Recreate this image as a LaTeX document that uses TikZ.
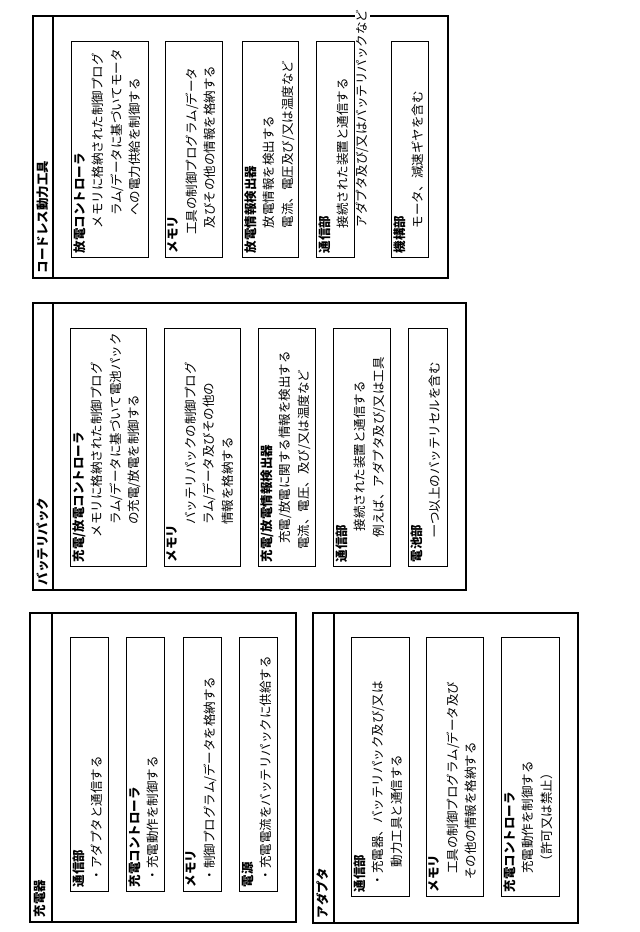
\documentclass[tikz,border=0pt]{standalone}
\usepackage{fontspec}
\setmainfont{Noto Sans CJK JP}
\usetikzlibrary{positioning}
\tikzset{
    outerbox/.style={draw=black, line width=1.6pt},
    innerbox/.style={draw=black, line width=0.8pt},
    boxtext/.style={
           rotate=90,
           anchor=north west,
           align=left,
           inner sep=1.5pt,
           font=\fontsize{12.5}{18.5}\selectfont,
           },
    titletext/.style={boxtext, font=\fontsize{12.5}{14}\selectfont\bfseries},
}
\newcommand{\ind}[1]{\hspace*{#1em}}

\begin{document}
\begin{tikzpicture}[x=1pt,y=-1pt]
 \useasboundingbox (0,0) rectangle (640,932);

 % Charger
 \draw[outerbox] (30,613) rectangle (296,922);
 \draw[outerbox] (52,613) -- (52,922);
 \node[titletext] (chg) at (32,919) {充電器};
 \draw[innerbox] (70,637) rectangle (108,891);
 \node[boxtext] (chgcom) at (71,889) {\textbf{通信部}\\\ind{0.5}・アダプタと通信する};
 \draw[innerbox] (126,637) rectangle (164,891);
 \node[boxtext] (chgctl) at (127,889) {\textbf{充電コントローラ}\\\ind{0.5}・充電動作を制御する};
 \draw[innerbox] (183,637) rectangle (221,891);
 \node[boxtext] (chgmem) at (184,889) {\textbf{メモリ}\\\ind{0.5}・制御プログラム/データを格納する};
 \draw[innerbox] (239,637) rectangle (277,891);
 \node[boxtext] (chgpow) at (240,889) {\textbf{電源}\\\ind{0.5}・充電電流をバッテリパックに供給する};

 % Adapter
 \draw[outerbox] (313,613) rectangle (578,923);
 \draw[outerbox] (334,613) -- (334,923);
 \node[titletext] (adp) at (315,920) {アダプタ};
 \draw[innerbox] (351,637) rectangle (409,896);
 \node[boxtext] (adpcom) at (352,894) {\textbf{通信部}\\\ind{0.5}・充電器、バッテリパック及び/又は\\\ind{2}動力工具と通信する};
 \draw[innerbox] (426,637) rectangle (483,896);
 \node[boxtext] (adpmem) at (427,894) {\textbf{メモリ}\\\ind{1.5}工具の制御プログラム/データ及び\\\ind{1}その他の情報を格納する};
 \draw[innerbox] (501,637) rectangle (559,896);
 \node[boxtext] (adpctl) at (502,894) {\textbf{充電コントローラ}\\\ind{1.5}充電動作を制御する\\\ind{2}（許可又は禁止）};

 % Battery pack
 \draw[outerbox] (33,303) rectangle (466,590);
 \draw[outerbox] (53,303) -- (53,590);
 \node[titletext] (bat) at (35,587) {バッテリパック};
 \draw[innerbox] (70,328) rectangle (146,566);
 \node[boxtext] (batctl) at (71,564) {\textbf{充電/放電コントローラ}\\\ind{2}メモリに格納された制御プログ\\\ind{3}ラム/データに基づいて電池パック\\\ind{3}の充電/放電を制御する};
 \draw[innerbox] (164,328) rectangle (240,566);
 \node[boxtext] (batmem) at (165,564) {\textbf{メモリ}\\\ind{3}バッテリパックの制御プログ\\\ind{3}ラム/データ及びその他の\\\ind{3}情報を格納する};
 \draw[innerbox] (258,328) rectangle (315,566);
 \node[boxtext] (batdet) at (259,564) {\textbf{充電/放電情報検出器}\\\ind{1.5}充電/放電に関する情報を検出する\\\ind{1}電流、電圧、及び/又は温度など};
 \draw[innerbox] (333,328) rectangle (390,566);
 \node[boxtext] (batcom) at (334,564) {\textbf{通信部}\\\ind{2.5}接続された装置と通信する\\\ind{2}例えば、アダプタ及び/又は工具};
 \draw[innerbox] (408,328) rectangle (447,566);
 \node[boxtext] (batcel) at (409,564) {\textbf{電池部}\\\ind{2}一つ以上のバッテリセルを含む};

 % Cordless power tool
 \draw[outerbox] (33,16) rectangle (448,278);
 \draw[outerbox] (53,16) -- (53,278);
 \node[titletext] (tool) at (35,275) {コードレス動力工具};
 \draw[innerbox] (71,41) rectangle (148,257);
 \node[boxtext] (toolctl) at (72,255) {\textbf{放電コントローラ}\\\ind{2}メモリに格納された制御プログ\\\ind{3}ラム/データに基づいてモータ\\\ind{3}への電力供給を制御する};
 \draw[innerbox] (165,41) rectangle (222,257);
 \node[boxtext] (toolmem) at (166,255) {\textbf{メモリ}\\\ind{1.5}工具の制御プログラム/データ\\\ind{2}及びその他の情報を格納する};
 \draw[innerbox] (242,41) rectangle (298,257);
 \node[boxtext] (tooldet) at (243,255) {\textbf{放電情報検出器}\\\ind{2}放電情報を検出する\\\ind{2}電流、電圧及び/又は温度など};
 \draw[innerbox] (316,41) rectangle (354,257);
 \node[boxtext] (toolcom) at (317,255) {\textbf{通信部}\\\ind{2}接続された装置と通信する\\\ind{2}{\setlength{\fboxsep}{1pt}\colorbox{white}{アダプタ及び/又はバッテリパックなど}}};
 \draw[innerbox] (391,41) rectangle (428,257);
 \node[boxtext] (toolmec) at (392,255) {\textbf{機構部}\\\ind{2}モータ、減速ギヤを含む};
\end{tikzpicture}
\end{document}
